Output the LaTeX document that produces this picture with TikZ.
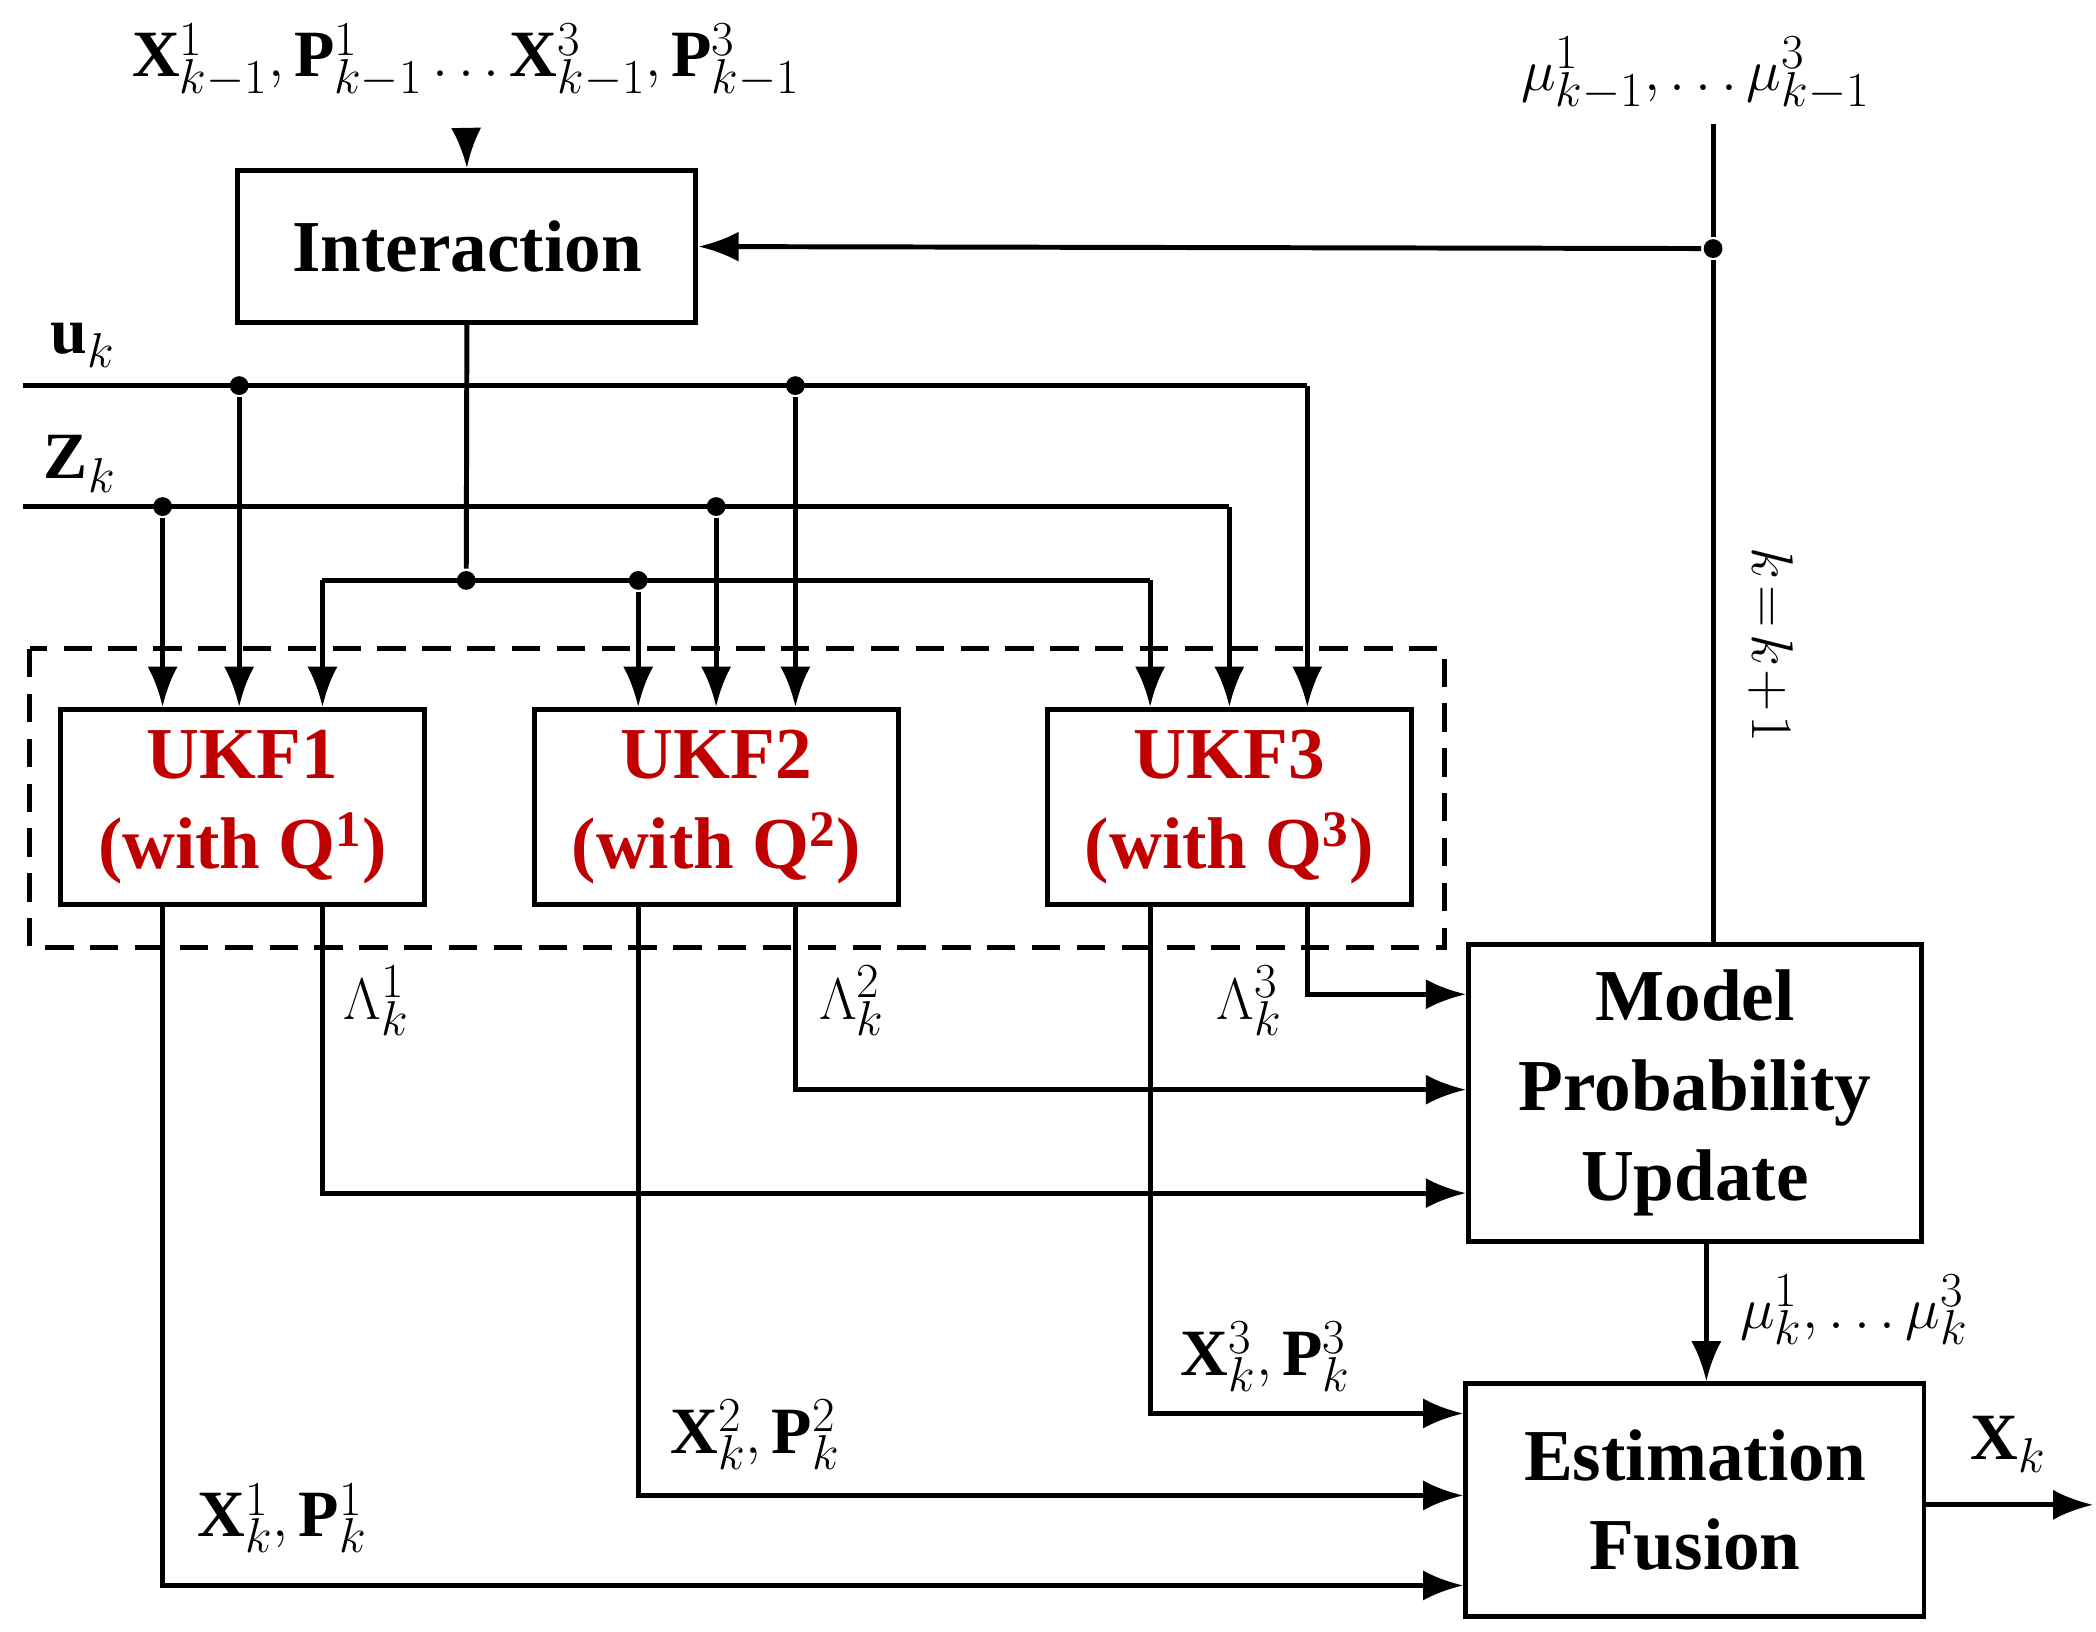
\documentclass[tikz,border=0pt]{standalone}
\usepackage{fontspec}
\setmainfont{Liberation Serif}
\usetikzlibrary{arrows.meta}
\definecolor{ukfred}{RGB}{192,0,0}
\begin{document}
\begin{tikzpicture}[x=0.02cm,y=-0.02cm,
  line width=2.1pt,
  box/.style={draw,inner sep=0pt,align=center,font=\fontsize{31}{34}\selectfont\bfseries},
  ukf/.style={box,minimum width=5.42cm,minimum height=2.9cm,text=ukfred},
  arr/.style={-{Latex[length=0.6cm,width=0.45cm]}},
  dot/.style={circle,fill,inner sep=0pt,minimum size=0.28cm},
  lbl/.style={font=\fontsize{28}{34}\selectfont}]
\useasboundingbox (0,0) rectangle (1560,1214);
% boxes
\node[box,minimum width=6.82cm,minimum height=2.26cm] (int) at (347.5,183.5) {Interaction};
\node[ukf] (u1) at (180.5,600.5) {UKF1\\[4pt](with Q$^{\mathbf 1}$)};
\node[ukf] (u2) at (533,600.5) {UKF2\\[4pt](with Q$^{\mathbf 2}$)};
\node[ukf] (u3) at (915,600.5) {UKF3\\[4pt](with Q$^{\mathbf 3}$)};
\node[box,minimum width=6.74cm,minimum height=4.42cm] (mpu) at (1261.5,813.5) {Model\\[4pt]Probability\\[4pt]Update};
\node[box,minimum width=6.82cm,minimum height=3.46cm] (ef) at (1261.5,1116.5) {Estimation\\[4pt]Fusion};
\draw[dash pattern=on 12pt off 7pt] (22,483) rectangle (1075,705);
% top inputs
\node[lbl] (top) at (347,45) {$\mathbf{X}^{1}_{k-1},\mathbf{P}^{1}_{k-1}\ldots\mathbf{X}^{3}_{k-1},\mathbf{P}^{3}_{k-1}$};
\coordinate (topin) at (347,97);
\draw[arr] (topin) -- (int.north);
\node[lbl] (mul) at (1262,55) {$\mu^{1}_{k-1},\ldots\mu^{3}_{k-1}$};
\coordinate (mutop) at (1275,92);
\node[dot] (mud) at (1275,185) {};
\draw (mutop) -- (mud) -- (mud |- mpu.north);
\draw[arr] (mud) -- (int.east);
\node[lbl,rotate=-90] (kk) at (1318,480) {$k\!=\!k\!+\!1$};
% u_k and Z_k
\node[lbl,anchor=west] (ul) at (30,257) {$\mathbf{u}_k$};
\node[lbl,anchor=west] (zl) at (25,345) {$\mathbf{Z}_k$};
\coordinate (us) at (17,287);
\coordinate (zs) at (17,377);
\node[dot] (ud1) at (178,287) {};
\node[dot] (ud2) at (592,287) {};
\coordinate (ue) at (973,287);
\node[dot] (zd1) at (121,377) {};
\node[dot] (zd2) at (533,377) {};
\coordinate (ze) at (915,377);
\draw (us) -- (ue);
\draw (zs) -- (ze);
\draw[arr] (ue) -- (ue |- u3.north);
\draw[arr] (ze) -- (ze |- u3.north);
\draw[arr] (ud1) -- (ud1 |- u1.north);
\draw[arr] (ud2) -- (ud2 |- u2.north);
\draw[arr] (zd1) -- (zd1 |- u1.north);
\draw[arr] (zd2) -- (zd2 |- u2.north);
% interaction outputs
\node[dot] (id1) at (347,432) {};
\node[dot] (id2) at (475,432) {};
\coordinate (il) at (240,432);
\coordinate (ir) at (856,432);
\draw (int.south) -- (id1);
\draw (il) -- (ir);
\draw[arr] (il) -- (il |- u1.north);
\draw[arr] (ir) -- (ir |- u3.north);
\draw[arr] (id2) -- (id2 |- u2.north);
% Lambda outputs
\coordinate (l1) at (240,888);
\coordinate (l2) at (592,811);
\coordinate (l3) at (973,740);
\draw[arr] (l1 |- u1.south) -- (l1) -- (l1 -| mpu.west);
\draw[arr] (l2 |- u2.south) -- (l2) -- (l2 -| mpu.west);
\draw[arr] (l3 |- u3.south) -- (l3) -- (l3 -| mpu.west);
\node[lbl] (lam1) at (280,745) {$\Lambda^{1}_{k}$};
\node[lbl] (lam2) at (634,745) {$\Lambda^{2}_{k}$};
\node[lbl] (lam3) at (930,745) {$\Lambda^{3}_{k}$};
% X outputs
\coordinate (x1) at (121,1180);
\coordinate (x2) at (475,1113);
\coordinate (x3) at (856,1052);
\draw[arr] (x1 |- u1.south) -- (x1) -- (x1 -| ef.west);
\draw[arr] (x2 |- u2.south) -- (x2) -- (x2 -| ef.west);
\draw[arr] (x3 |- u3.south) -- (x3) -- (x3 -| ef.west);
\node[lbl] (xl1) at (210,1130) {$\mathbf{X}^{1}_{k},\mathbf{P}^{1}_{k}$};
\node[lbl] (xl2) at (562,1068) {$\mathbf{X}^{2}_{k},\mathbf{P}^{2}_{k}$};
\node[lbl] (xl3) at (942,1010) {$\mathbf{X}^{3}_{k},\mathbf{P}^{3}_{k}$};
% MPU -> EF
\coordinate (mp) at (1270,0);
\draw[arr] (mp |- mpu.south) -- (mp |- ef.north);
\node[lbl] (muk) at (1380,975) {$\mu^{1}_{k},\ldots\mu^{3}_{k}$};
% output
\coordinate (out) at (1558,1120);
\draw[arr] (out -| ef.east) -- (out);
\node[lbl] (xk) at (1495,1075) {$\mathbf{X}_{k}$};
\end{tikzpicture}
\end{document}
